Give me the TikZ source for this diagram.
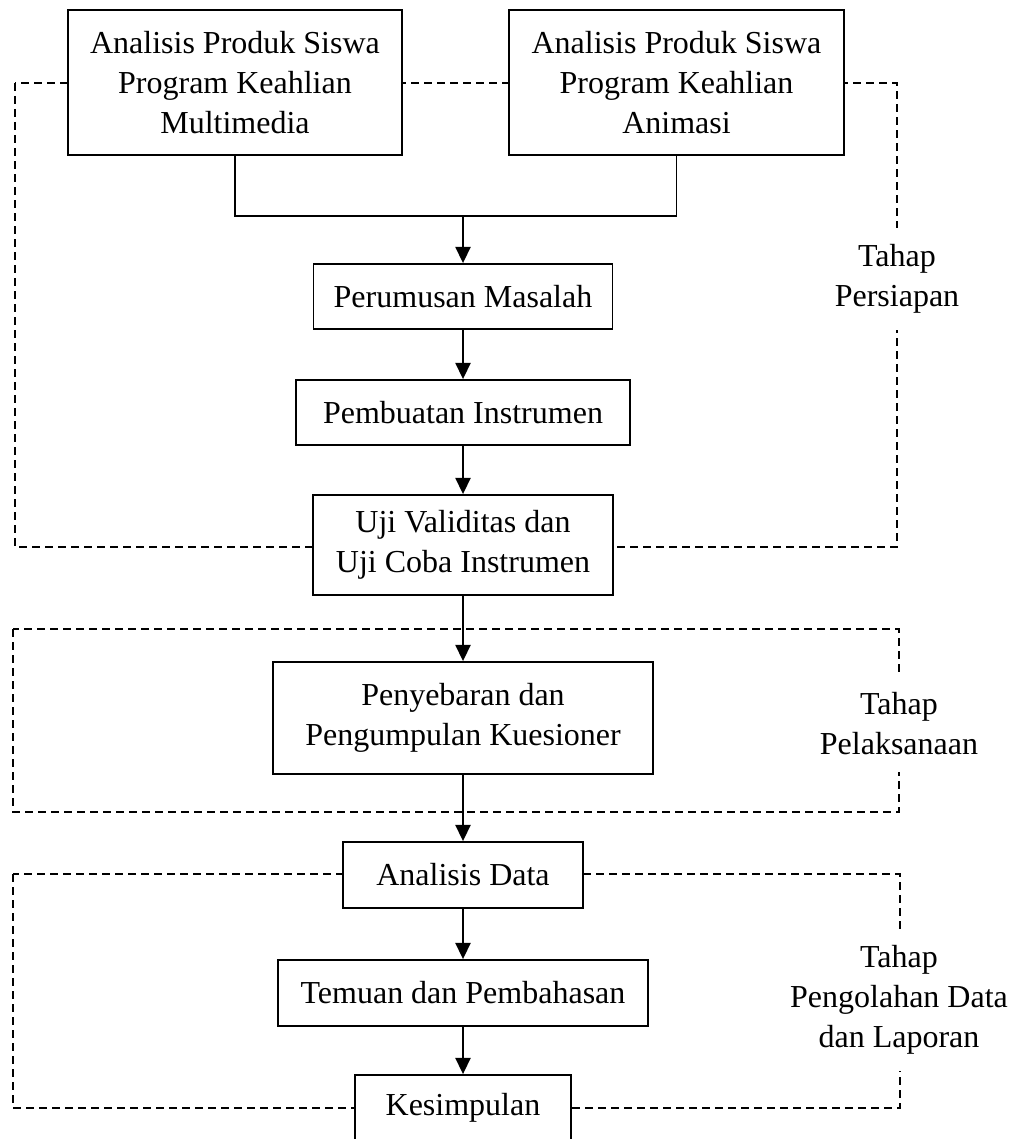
\documentclass[tikz,border=0pt]{standalone}
\usepackage{fontspec}
\setmainfont{Liberation Serif}
\usetikzlibrary{arrows.meta,backgrounds}

\begin{document}
\begin{tikzpicture}[x=0.4pt,y=-0.4pt,
  box/.style={draw,line width=0.7pt,fill=white,align=center,inner sep=0pt,
    font=\fontsize{12.8}{16}\selectfont},
  arr/.style={line width=0.9pt,-{Triangle[width=6pt,length=6.5pt]}},
  frame/.style={line width=0.5pt,dash pattern=on 3.2pt off 2pt},
  phase/.style={fill=white,align=center,inner xsep=2pt,inner ysep=6.5pt,
    font=\fontsize{12.8}{16}\selectfont}]

\useasboundingbox (0,0) rectangle (1019,1139);

% Top boxes
\node[box,minimum width=133.6pt,minimum height=58pt] (multi) at (235,82.5)
  {Analisis Produk Siswa\\Program Keahlian\\Multimedia};
\node[box,minimum width=134pt,minimum height=58pt] (anim) at (676.5,82.5)
  {Analisis Produk Siswa\\Program Keahlian\\Animasi};
\coordinate (join) at (463,216);

% Main column
\node[box,minimum width=119.6pt,minimum height=26pt] (rumus) at (463,296.5) {Perumusan Masalah};
\node[box,minimum width=133.6pt,minimum height=26pt] (buat) at (463,412.5) {Pembuatan Instrumen};
\node[box,minimum width=120pt,minimum height=40pt] (uji) at (463,545) {Uji Validitas dan\\Uji Coba Instrumen};
\node[box,minimum width=152pt,minimum height=44.8pt] (sebar) at (463,718) {Penyebaran dan\\Pengumpulan Kuesioner};
\node[box,minimum width=96pt,minimum height=26.4pt] (data) at (463,875) {Analisis Data};
\node[box,minimum width=148pt,minimum height=26.4pt] (temuan) at (463,993) {Temuan dan Pembahasan};
\node[box,minimum width=86.4pt,minimum height=26.4pt] (simpul) at (463,1108) {Kesimpulan};

% Phase labels
\node[phase] (persiapan) at (897,279) {Tahap\\Persiapan};
\node[phase] (pelaksanaan) at (899,724) {Tahap\\Pelaksanaan};
\node[phase] (pengolahan) at (899,1000) {Tahap\\Pengolahan Data\\dan Laporan};

% Dashed phase frames
\begin{scope}[on background layer]
\draw[frame] (15,83) rectangle (897,547);
\draw[frame] (13,629) rectangle (899,812);
\draw[frame] (13,874) rectangle (900,1108);
\end{scope}

% Connectors
\draw[line width=0.7pt] (multi.south) |- (join) -| (anim.south);
\draw[arr] (join) -- (rumus.north);
\draw[arr] (rumus.south) -- (buat.north);
\draw[arr] (buat.south) -- (uji.north);
\draw[arr] (uji.south) -- (sebar.north);
\draw[arr] (sebar.south) -- (data.north);
\draw[arr] (data.south) -- (temuan.north);
\draw[arr] (temuan.south) -- (simpul.north);

\end{tikzpicture}
\end{document}
